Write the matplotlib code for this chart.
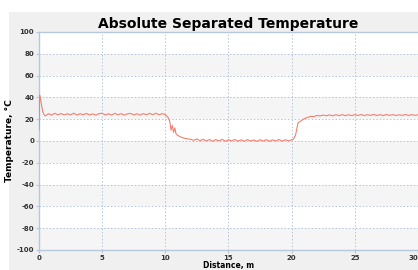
import numpy as np
import matplotlib.pyplot as plt
import matplotlib.patches as mpatches

plt.rcParams['axes.unicode_minus'] = False

# Trace (distance in m, temperature in degC)
distance = [0.0, 0.05, 0.1, 0.2, 0.3, 0.4, 0.5, 0.75, 1.0, 1.25, 1.5, 1.75, 2.0,
            2.25, 2.5, 2.75, 3.0, 3.25, 3.5, 3.75, 4.0, 4.25, 4.5, 4.75, 5.0,
            5.25, 5.5, 5.75, 6.0, 6.25, 6.5, 6.75, 7.0, 7.25, 7.5, 7.75, 8.0,
            8.25, 8.5, 8.75, 9.0, 9.25, 9.5, 9.75, 10.0, 10.2, 10.35, 10.45,
            10.55, 10.65, 10.75, 10.85, 11.0, 11.25, 11.5, 11.75, 12.0, 12.25,
            12.5, 12.75, 13.0, 13.25, 13.5, 13.75, 14.0, 14.25, 14.5, 14.75,
            15.0, 15.25, 15.5, 15.75, 16.0, 16.25, 16.5, 16.75, 17.0, 17.25,
            17.5, 17.75, 18.0, 18.25, 18.5, 18.75, 19.0, 19.25, 19.5, 19.75,
            20.0, 20.15, 20.3, 20.4, 20.5, 20.75, 21.0, 21.25, 21.5, 21.75,
            22.0, 22.25, 22.5, 22.75, 23.0, 23.25, 23.5, 23.75, 24.0, 24.25,
            24.5, 24.75, 25.0, 25.25, 25.5, 25.75, 26.0, 26.25, 26.5, 26.75,
            27.0, 27.25, 27.5, 27.75, 28.0, 28.25, 28.5, 28.75, 29.0, 29.25,
            29.5, 29.75, 30.0]
temperature = [10.0, 42.0, 40.0, 33.0, 27.0, 24.0, 23.0, 25.0, 23.8, 25.4, 24.0,
               25.2, 23.9, 25.0, 24.0, 25.5, 23.8, 25.0, 24.1, 25.3, 23.9, 24.9,
               23.7, 25.1, 25.5, 23.9, 25.0, 23.8, 25.4, 24.0, 25.1, 23.7, 24.9,
               25.3, 23.9, 25.0, 23.8, 25.2, 24.0, 25.4, 24.1, 25.5, 24.0, 25.1,
               24.2, 22.0, 18.0, 10.0, 14.5, 8.0, 12.0, 6.5, 5.0, 3.5, 2.5, 2.0,
               1.5, 0.6, 1.9, 0.2, 1.6, 0.0, 1.4, -0.2, 1.3, 0.0, 1.5, -0.3, 1.2,
               0.0, 1.4, -0.2, 1.1, -0.3, 1.3, 0.0, 1.0, -0.4, 1.2, -0.1, 1.3, -0.3,
               1.1, 0.0, 1.4, -0.2, 1.2, 0.1, 1.0, 1.8, 5.0, 11.0, 16.5, 18.5, 20.5,
               21.5, 22.6, 22.4, 23.4, 23.0, 23.8, 23.2, 24.0, 23.1, 24.1, 23.3,
               24.2, 23.2, 24.1, 23.3, 24.2, 23.4, 24.3, 23.3, 24.1, 23.5, 24.3,
               23.4, 24.2, 23.3, 24.3, 23.5, 24.2, 23.4, 24.0, 23.5, 24.3, 23.4,
               24.2, 23.5, 24.0]

x_ticks = [0, 5, 10, 15, 20, 25, 30]
y_ticks = [-100, -80, -60, -40, -20, 0, 20, 40, 60, 80, 100]

fig = plt.figure(figsize=(4.18, 2.70), dpi=100)
fig.patch.set_facecolor('white')

# light grey panel behind the chart
panel = mpatches.Rectangle((0.0215, 0.0), 0.99, 0.9556, transform=fig.transFigure,
                           facecolor='#f0f0f0', edgecolor='none', zorder=-5)
fig.add_artist(panel)

ax = fig.add_axes([0.0933, 0.0741, 0.9067, 0.8074])
ax.set_zorder(1)
ax.set_facecolor('white')

# alternating horizontal bands
for lo in range(-100, 100, 40):
    ax.axhspan(lo, lo + 20, color='#f5f5f5', zorder=0, lw=0)

ax.plot(distance, temperature, color='#f27f70', lw=0.8, zorder=3)

ax.set_xlim(0, 30)
ax.set_ylim(-100, 100)
ax.set_xticks(x_ticks)
ax.set_yticks(y_ticks)
ax.grid(True, color='#b2c4da', linestyle=(0, (1.5, 2)), lw=0.7, zorder=1)
ax.set_axisbelow(True)

for s in ['left', 'bottom', 'top']:
    ax.spines[s].set_color('#b7c8dc')
    ax.spines[s].set_linewidth(1.0)
ax.spines['right'].set_visible(False)

ax.tick_params(axis='both', length=2.5, width=0.8, color='#b7c8dc',
               labelsize=5, labelcolor='#333333', pad=1)
for lbl in ax.get_xticklabels() + ax.get_yticklabels():
    lbl.set_fontweight('bold')
ax.get_xticklabels()[-1].set_horizontalalignment('right')

ax.set_title('Absolute Separated Temperature', fontsize=10, fontweight='bold', pad=3)
ax.set_ylabel('Temperature, °C', fontsize=6.5, fontweight='bold')
ax.yaxis.set_label_coords(-0.066, 0.5)
ax.set_xlabel('Distance, m', fontsize=5.5, fontweight='bold')
ax.xaxis.set_label_coords(0.5, -0.0917)
ax.xaxis.label.set_verticalalignment('bottom')

fig.savefig('out.png', dpi=100)
